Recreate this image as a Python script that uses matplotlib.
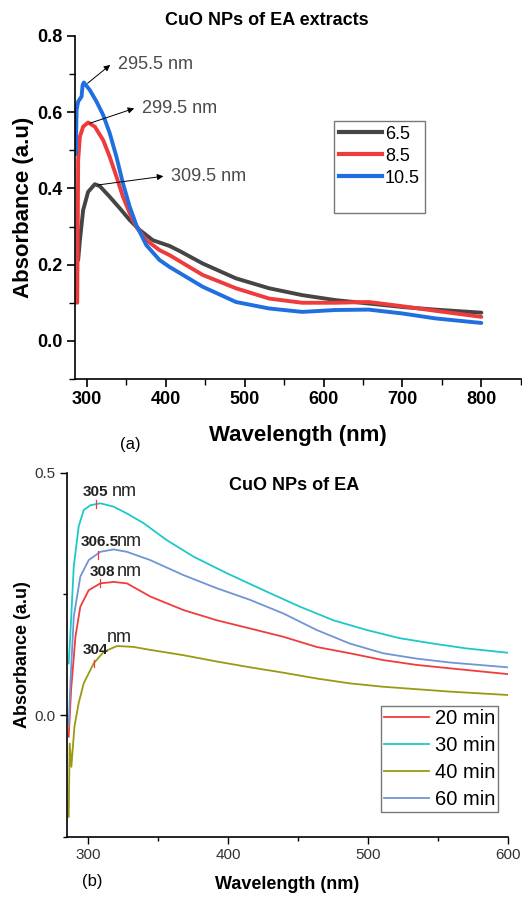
import matplotlib
matplotlib.use("Agg")
import matplotlib.pyplot as plt
from matplotlib.lines import Line2D
from matplotlib.ticker import MultipleLocator

plt.rcParams['font.family'] = ['Liberation Sans', 'DejaVu Sans']

# ---- panel (a): pH series ----
wl_a_65 = [289, 291.2, 295.3, 301.6, 310.1, 316.4, 329, 341.7, 354.3, 366.9, 383.7, 404.8, 417.4, 446.8,
           489, 531, 573, 615, 657.3, 699.4, 741.5, 800]
abs_a_65 = [0.212, 0.264, 0.343, 0.391, 0.411, 0.406, 0.378, 0.348, 0.317, 0.291, 0.264, 0.249, 0.236, 0.203,
            0.164, 0.138, 0.12, 0.107, 0.098, 0.089, 0.082, 0.074]
wl_a_85 = [287.8, 289, 291.2, 295.3, 301.6, 310.1, 320.6, 329, 337.5, 345.8, 354.3, 362.7, 375.4, 392.2,
           404.8, 446.8, 489, 531, 573, 615, 657.3, 699.4, 741.5, 800]
abs_a_85 = [0.10, 0.475, 0.536, 0.562, 0.573, 0.562, 0.527, 0.483, 0.431, 0.378, 0.335, 0.299, 0.264, 0.238,
            0.225, 0.173, 0.138, 0.111, 0.10, 0.10, 0.102, 0.091, 0.079, 0.063]
wl_a_105 = [286, 287, 289, 293.3, 294.6, 296.2, 303.8, 312.2, 320.6, 329, 337.5, 345.8, 354.3, 362.7,
            375.4, 392.2, 404.8, 446.8, 489, 531, 573, 615, 657.3, 699.4, 741.5, 800]
abs_a_105 = [0.49, 0.606, 0.628, 0.641, 0.671, 0.678, 0.658, 0.628, 0.593, 0.545, 0.483, 0.413, 0.352, 0.304,
             0.251, 0.212, 0.194, 0.142, 0.102, 0.085, 0.076, 0.081, 0.082, 0.072, 0.059, 0.047]
labels_a = ["6.5", "8.5", "10.5"]
colors_a = ["#454545", "#ee3b3b", "#1f6fe0"]

peaks_a = ["295.5 nm", "299.5 nm", "309.5 nm"]
peak_xy_a = [(301.0, 0.676), (303.8, 0.571), (314.0, 0.409)]
text_xy_a = [(339.6, 0.724), (370.0, 0.61), (407.0, 0.432)]

# ---- panel (b): time series ----
wl_b_20 = [286.2, 287.9, 291, 294.5, 300.5, 308.8, 318.3, 327.8, 344.4, 368.2, 392, 415.8, 439.5, 463.3, 487, 510.8, 534.6, 558.4, 600]
abs_b_20 = [-0.044, 0.052, 0.162, 0.224, 0.258, 0.272, 0.275, 0.272, 0.245, 0.217, 0.196, 0.179, 0.162, 0.141, 0.128, 0.114, 0.104, 0.097, 0.085]
wl_b_30 = [286.2, 287.4, 289.8, 293.3, 296.9, 301.7, 308.8, 318.3, 327.8, 339.7, 356.3, 375.4, 399.1, 427.6, 451.4, 475.2, 499, 522.7, 546.5, 570.3, 600]
abs_b_30 = [0.107, 0.169, 0.306, 0.389, 0.423, 0.433, 0.437, 0.43, 0.416, 0.396, 0.361, 0.327, 0.293, 0.255, 0.224, 0.196, 0.176, 0.159, 0.148, 0.138, 0.129]
wl_b_40 = [286.2, 286.9, 288.1, 290.3, 293.3, 296.9, 304, 311.2, 320.7, 332.6, 344.4, 368.2, 392, 415.8, 439.5, 463.3, 487, 510.8, 534.6, 558.4, 600]
abs_b_40 = [-0.209, -0.058, -0.106, -0.023, 0.025, 0.066, 0.107, 0.131, 0.143, 0.141, 0.135, 0.124, 0.111, 0.099, 0.088, 0.076, 0.066, 0.059, 0.054, 0.049, 0.042]
wl_b_60 = [286.2, 287.4, 289.8, 294.5, 300.5, 308.8, 318.3, 327.8, 344.4, 368.2, 392, 415.8, 439.5, 463.3, 487, 510.8, 534.6, 558.4, 600]
abs_b_60 = [-0.02, 0.066, 0.203, 0.286, 0.32, 0.337, 0.342, 0.337, 0.32, 0.289, 0.262, 0.238, 0.21, 0.176, 0.148, 0.128, 0.117, 0.109, 0.099]
labels_b = ["20 min", "30 min", "40 min", "60 min"]
colors_b = ["#f03c3c", "#1ec8c8", "#9a9a12", "#6f95d4"]

peak_x_b = [308.3, 305.7, 304.5, 306.9]
peak_y_b = [0.272, 0.435, 0.107, 0.33]
peak_num_b = ["308", "305", "304", "306.5"]
num_xy_b = [(301.0, 0.296), (296.4, 0.461), (296.4, 0.134), (294.5, 0.358)]
nm_xy_b = [(320.5, 0.296), (317.0, 0.461), (313.5, 0.160), (320.5, 0.358)]

fig = plt.figure(figsize=(5.22, 8.97), dpi=100)

# ---------------- (a) ----------------
ax1 = fig.add_axes([0.1437, 0.5775, 0.854, 0.3824])
series_a = [(wl_a_65, abs_a_65), (wl_a_85, abs_a_85), (wl_a_105, abs_a_105)]
for (x, y), lab, c in zip(series_a, labels_a, colors_a):
    ax1.plot(x, y, color=c, lw=2.8, label=lab, solid_capstyle='round', solid_joinstyle='round')
for txt, p, t in zip(peaks_a, peak_xy_a, text_xy_a):
    ax1.annotate("", xy=(t[0] - 10, t[1]), xytext=p,
                 arrowprops=dict(arrowstyle="-|>", color="black", lw=0.7,
                                 mutation_scale=9, shrinkA=0, shrinkB=0))
    ax1.text(t[0], t[1], txt, fontsize=13, color="#4a4a4a", va="center", ha="left")

ax1.set_xlim(285, 850)
ax1.set_ylim(-0.1, 0.8)
ax1.xaxis.set_major_locator(MultipleLocator(100))
ax1.xaxis.set_minor_locator(MultipleLocator(50))
ax1.yaxis.set_major_locator(MultipleLocator(0.2))
ax1.yaxis.set_minor_locator(MultipleLocator(0.1))
ax1.spines['top'].set_visible(False)
ax1.spines['right'].set_visible(False)
for s in ['left', 'bottom']:
    ax1.spines[s].set_linewidth(1.2)
ax1.tick_params(which='major', direction='out', length=6, width=1.2, labelsize=13, pad=3)
ax1.tick_params(which='minor', direction='out', length=4, width=1.0)
ax1.set_xticks([300, 400, 500, 600, 700, 800])
ax1.set_xticklabels(["300", "400", "500", "600", "700", "800"], fontweight='bold')
ax1.set_yticks([0.0, 0.2, 0.4, 0.6, 0.8])
ax1.set_yticklabels(["0.0", "0.2", "0.4", "0.6", "0.8"], fontweight='bold')
ax1.set_xlabel("Wavelength (nm)", fontsize=16, fontweight='bold', labelpad=12)
ax1.set_ylabel("Absorbance (a.u)", fontsize=16, fontweight='bold', labelpad=2)
ax1.set_title("CuO NPs of EA extracts", fontsize=13, fontweight='bold', pad=8, x=0.43)

handles_a = [Line2D([], [], color=c, lw=3) for c in colors_a] + [Line2D([], [], color='none')]
leg1 = ax1.legend(handles_a, labels_a + [""], loc='upper left', bbox_to_anchor=(0.582, 0.752),
                  fontsize=13, frameon=True, fancybox=False, edgecolor="#555555",
                  handlelength=2.4, handletextpad=0.15, borderpad=0.25, labelspacing=0.28,
                  borderaxespad=0)
leg1.get_frame().set_linewidth(1.0)
fig.text(0.25, 0.505, "(a)", fontsize=12, ha='center', va='center')

# ---------------- (b) ----------------
ax2 = fig.add_axes([0.1284, 0.0672, 0.8448, 0.4058])
series_b = [(wl_b_20, abs_b_20), (wl_b_30, abs_b_30), (wl_b_40, abs_b_40), (wl_b_60, abs_b_60)]
for (x, y), lab, c in zip(series_b, labels_b, colors_b):
    ax2.plot(x, y, color=c, lw=1.3, label=lab, solid_joinstyle='round')
for px, py in zip(peak_x_b, peak_y_b):
    ax2.plot([px, px], [py - 0.008, py + 0.008], color="#f03c3c", lw=0.9)
for num, nxy, mxy in zip(peak_num_b, num_xy_b, nm_xy_b):
    ax2.text(nxy[0], nxy[1], num, fontsize=11, fontweight='bold', color="#222222", va='center', ha='left')
    ax2.text(mxy[0], mxy[1], "nm", fontsize=13, color="#222222", va='center', ha='left')

ax2.set_xlim(285, 600)
ax2.set_ylim(-0.25, 0.5)
ax2.xaxis.set_major_locator(MultipleLocator(100))
ax2.xaxis.set_minor_locator(MultipleLocator(50))
ax2.yaxis.set_major_locator(MultipleLocator(0.5))
ax2.yaxis.set_minor_locator(MultipleLocator(0.25))
ax2.spines['top'].set_visible(False)
ax2.spines['right'].set_visible(False)
for s in ['left', 'bottom']:
    ax2.spines[s].set_linewidth(1.2)
ax2.tick_params(which='major', direction='out', length=5, width=1.0, labelsize=11,
                labelcolor="#333333", pad=3)
ax2.tick_params(which='minor', direction='out', length=3, width=1.0)
ax2.set_yticks([0.0, 0.5])
ax2.set_yticklabels(["0.0", "0.5"])
ax2.set_xlabel("Wavelength (nm)", fontsize=13, fontweight='bold', labelpad=10)
ax2.set_ylabel("Absorbance (a.u)", fontsize=13, fontweight='bold', labelpad=3)
ax2.text(0.515, 0.965, "CuO NPs of EA", transform=ax2.transAxes, fontsize=13,
         fontweight='bold', ha='center', va='center')

leg2 = ax2.legend(loc='lower right', bbox_to_anchor=(0.9775, 0.068), fontsize=14.5,
                  frameon=True, fancybox=False, edgecolor="#555555",
                  handlelength=2.2, handletextpad=0.3, borderpad=0.15, labelspacing=0.4,
                  borderaxespad=0)
leg2.get_frame().set_linewidth(1.0)
fig.text(0.176, 0.009, "(b)", fontsize=12, ha='center', va='bottom')

fig.savefig("out.png", dpi=100)
